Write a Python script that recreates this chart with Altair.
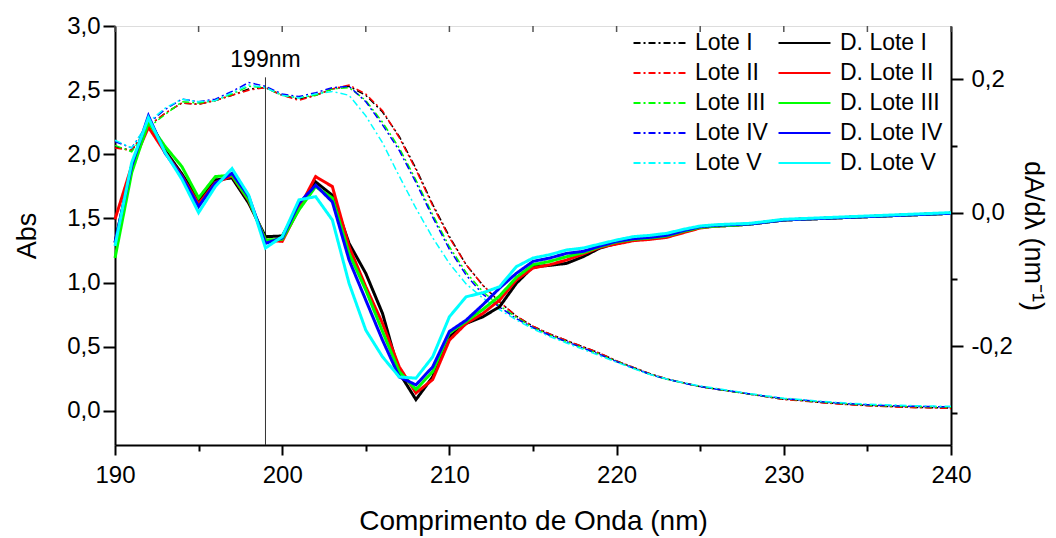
import altair as alt
import pandas as pd

FONT = "Liberation Sans"

wavelength = list(range(190, 241))

abs_names = ["Lote I", "Lote II", "Lote III", "Lote IV", "Lote V"]
der_names = ["D. Lote I", "D. Lote II", "D. Lote III", "D. Lote IV", "D. Lote V"]
series_colors = ["#000000", "#ff0000", "#00ff00", "#0000ff", "#00ffff"]

# Absorbance (left axis), 190..240 nm
abs_I = [2.06, 2.03, 2.22, 2.32, 2.40, 2.39, 2.42, 2.46, 2.51, 2.52,
         2.46, 2.43, 2.46, 2.51, 2.53, 2.46, 2.33, 2.14, 1.89, 1.61,
         1.36, 1.14, 0.98, 0.85, 0.74, 0.66, 0.60, 0.55, 0.50, 0.45,
         0.39, 0.34, 0.29, 0.25, 0.22, 0.19, 0.17, 0.15, 0.13, 0.11,
         0.092, 0.082, 0.069, 0.059, 0.050, 0.043, 0.037, 0.032, 0.028, 0.025,
         0.022]
abs_II = [2.05, 2.03, 2.22, 2.32, 2.40, 2.39, 2.42, 2.46, 2.50, 2.52,
          2.46, 2.42, 2.46, 2.51, 2.54, 2.47, 2.34, 2.13, 1.88, 1.60,
          1.35, 1.14, 0.98, 0.85, 0.74, 0.66, 0.60, 0.55, 0.50, 0.45,
          0.39, 0.34, 0.29, 0.25, 0.22, 0.19, 0.17, 0.15, 0.13, 0.11,
          0.090, 0.080, 0.067, 0.057, 0.048, 0.041, 0.035, 0.030, 0.026, 0.023,
          0.020]
abs_III = [2.07, 2.02, 2.21, 2.31, 2.41, 2.40, 2.42, 2.47, 2.53, 2.52,
           2.46, 2.44, 2.46, 2.51, 2.52, 2.42, 2.25, 2.05, 1.80, 1.53,
           1.28, 1.08, 0.93, 0.82, 0.73, 0.65, 0.59, 0.54, 0.49, 0.44,
           0.385, 0.335, 0.285, 0.248, 0.218, 0.19, 0.17, 0.15, 0.13, 0.112,
           0.095, 0.085, 0.073, 0.063, 0.054, 0.047, 0.041, 0.037, 0.034, 0.032,
           0.030]
abs_IV = [2.10, 2.05, 2.24, 2.35, 2.43, 2.41, 2.43, 2.49, 2.56, 2.53,
          2.47, 2.45, 2.48, 2.52, 2.53, 2.41, 2.23, 2.03, 1.78, 1.51,
          1.26, 1.06, 0.91, 0.81, 0.72, 0.65, 0.59, 0.54, 0.49, 0.44,
          0.385, 0.335, 0.285, 0.248, 0.218, 0.19, 0.17, 0.152, 0.132, 0.114,
          0.097, 0.087, 0.075, 0.065, 0.056, 0.049, 0.043, 0.039, 0.036, 0.034,
          0.032]
abs_V = [2.11, 2.05, 2.25, 2.36, 2.43, 2.41, 2.42, 2.48, 2.54, 2.52,
         2.46, 2.44, 2.47, 2.49, 2.46, 2.30, 2.09, 1.83, 1.58, 1.35,
         1.15, 0.99, 0.88, 0.79, 0.71, 0.64, 0.58, 0.53, 0.48, 0.43,
         0.38, 0.33, 0.285, 0.25, 0.22, 0.195, 0.175, 0.155, 0.135, 0.117,
         0.100, 0.090, 0.078, 0.068, 0.060, 0.054, 0.049, 0.045, 0.041, 0.038,
         0.036]

# First derivative dA/dlambda (right axis), 190..240 nm
der_I = [-0.045, 0.070, 0.140, 0.093, 0.058, 0.019, 0.049, 0.052, 0.014, -0.036,
         -0.035, 0.009, 0.046, 0.026, -0.046, -0.091, -0.151, -0.240, -0.280, -0.246,
         -0.186, -0.166, -0.156, -0.141, -0.106, -0.081, -0.079, -0.076, -0.066, -0.053,
         -0.046, -0.041, -0.039, -0.036, -0.029, -0.022, -0.020, -0.019, -0.017, -0.014,
         -0.011, -0.010, -0.009, -0.008, -0.007, -0.006, -0.005, -0.004, -0.003, -0.002,
         -0.001]
der_II = [-0.010, 0.070, 0.128, 0.090, 0.055, 0.013, 0.045, 0.055, 0.018, -0.041,
          -0.043, 0.006, 0.054, 0.039, -0.051, -0.111, -0.166, -0.231, -0.270, -0.250,
          -0.191, -0.166, -0.151, -0.131, -0.101, -0.083, -0.078, -0.071, -0.062, -0.052,
          -0.047, -0.042, -0.040, -0.037, -0.030, -0.023, -0.020, -0.019, -0.017, -0.014,
          -0.011, -0.010, -0.009, -0.008, -0.007, -0.006, -0.005, -0.004, -0.003, -0.002,
          -0.001]
der_III = [-0.068, 0.060, 0.135, 0.099, 0.069, 0.022, 0.054, 0.056, 0.019, -0.041,
           -0.040, 0.004, 0.039, 0.022, -0.061, -0.116, -0.178, -0.238, -0.265, -0.238,
           -0.180, -0.163, -0.145, -0.125, -0.097, -0.078, -0.073, -0.066, -0.060, -0.051,
           -0.044, -0.040, -0.038, -0.035, -0.028, -0.022, -0.020, -0.019, -0.017, -0.014,
           -0.011, -0.010, -0.009, -0.008, -0.007, -0.006, -0.005, -0.004, -0.003, -0.002,
           -0.001]
der_IV = [-0.045, 0.070, 0.145, 0.089, 0.054, 0.009, 0.044, 0.059, 0.024, -0.046,
          -0.038, 0.014, 0.041, 0.016, -0.071, -0.131, -0.191, -0.246, -0.258, -0.231,
          -0.178, -0.161, -0.138, -0.113, -0.091, -0.073, -0.068, -0.061, -0.058, -0.050,
          -0.043, -0.039, -0.037, -0.034, -0.027, -0.021, -0.019, -0.018, -0.017, -0.014,
          -0.011, -0.010, -0.009, -0.008, -0.007, -0.006, -0.005, -0.004, -0.003, -0.002,
          -0.001]
der_V = [-0.050, 0.075, 0.142, 0.090, 0.050, 0.000, 0.039, 0.066, 0.026, -0.053,
         -0.036, 0.019, 0.024, -0.011, -0.106, -0.176, -0.216, -0.246, -0.248, -0.216,
         -0.156, -0.126, -0.120, -0.111, -0.081, -0.068, -0.063, -0.056, -0.053, -0.047,
         -0.041, -0.036, -0.034, -0.031, -0.025, -0.020, -0.018, -0.017, -0.016, -0.013,
         -0.010, -0.009, -0.008, -0.007, -0.006, -0.005, -0.004, -0.003, -0.002, -0.001,
         0.000]

abs_values = [abs_I, abs_II, abs_III, abs_IV, abs_V]
der_values = [der_I, der_II, der_III, der_IV, der_V]

# annotation
annot_x = [199]
annot_top = [2.60]
annot_text = ["199nm"]

x_ticks = list(range(190, 241, 5))
left_ticks = [i * 0.25 for i in range(0, 13)]
right_ticks = [-0.3, -0.2, -0.1, 0.0, 0.1, 0.2]

LEFT_DOMAIN = [-0.265, 3.0]
RIGHT_DOMAIN = [-0.348, 0.2795]

rows_abs = []
for name, vals in zip(abs_names, abs_values):
    for w, v in zip(wavelength, vals):
        rows_abs.append({"wl": w, "value": v, "series": name})
rows_der = []
for name, vals in zip(der_names, der_values):
    for w, v in zip(wavelength, vals):
        rows_der.append({"wl": w, "value": v, "series": name})
df_abs = pd.DataFrame(rows_abs)
df_der = pd.DataFrame(rows_der)

# legend fills column by column: first column Lote I..V, second D. Lote I..V
legend_order = abs_names + der_names
legend_colors = series_colors + series_colors
legend_dashes = [[7, 3, 2, 3]] * 5 + [[1, 0]] * 5

color_scale = alt.Scale(domain=legend_order, range=legend_colors)
dash_scale = alt.Scale(domain=legend_order, range=legend_dashes)

legend = alt.Legend(
    title=None, orient="none", legendX=517, legendY=6, columns=2,
    symbolType="stroke", symbolSize=2700, clipHeight=22, rowPadding=7,
    columnPadding=9, labelOffset=8, labelFontSize=23, labelFont=FONT,
    labelColor="black", padding=0, symbolStrokeWidth=2.2,
)

X_SCALE = alt.Scale(domain=[190, 240], nice=False, zero=False)

x_axis = alt.Axis(
    values=x_ticks, orient="bottom",
    labelExpr="datum.value % 10 === 0 ? datum.label : ''",
    tickSize={"condition": {"test": "datum.value % 10 === 0", "value": 10}, "value": 6},
    title="Comprimento de Onda (nm)", titleFontSize=28, titleFont=FONT,
    titleFontWeight="normal", titleColor="black", titlePadding=20,
    labelFontSize=24, labelFont=FONT,
    labelColor="black", labelPadding=8, tickColor="black", tickWidth=2,
    domainColor="black", domainWidth=2, grid=False, labelFlush=False,
)

left_axis = alt.Axis(
    values=left_ticks, orient="left",
    labelExpr="abs(datum.value*2 - round(datum.value*2)) < 0.000001 ? replace(format(datum.value, '.1f'), '.', ',') : ''",
    tickSize={"condition": {"test": "abs(datum.value*2 - round(datum.value*2)) < 0.000001", "value": 12}, "value": 6},
    title="Abs", titleFontSize=27, titleFont=FONT, titleFontWeight="normal",
    titleColor="black", titlePadding=25,
    labelFontSize=24, labelFont=FONT, labelColor="black", labelPadding=3,
    tickColor="black", tickWidth=2, domainColor="black", domainWidth=2,
    grid=False, labelFlush=False,
)

right_axis = alt.Axis(
    values=right_ticks, orient="right",
    labelExpr="abs(datum.value*5 - round(datum.value*5)) < 0.000001 ? replace(replace(format(datum.value, '.1f'), '.', ','), '\u2212', '-') : ''",
    tickSize={"condition": {"test": "abs(datum.value*5 - round(datum.value*5)) < 0.000001", "value": 12}, "value": 6},
    title="dA/d\u03bb (nm\u207b\u00b9)", titleFontSize=27, titleFont=FONT,
    titleFontWeight="normal", titleColor="black", titlePadding=6,
    labelFontSize=24, labelFont=FONT, labelColor="black", labelPadding=8,
    tickColor="black", tickWidth=2, domainColor="black", domainWidth=2,
    grid=False, labelFlush=False,
)

abs_layer = alt.Chart(df_abs).mark_line(strokeWidth=1.5).encode(
    x=alt.X("wl:Q", scale=X_SCALE, axis=x_axis),
    y=alt.Y("value:Q", scale=alt.Scale(domain=LEFT_DOMAIN, nice=False, zero=False), axis=left_axis),
    color=alt.Color("series:N", scale=color_scale, legend=legend),
    strokeDash=alt.StrokeDash("series:N", scale=dash_scale, legend=legend),
)

der_layer = alt.Chart(df_der).mark_line(strokeWidth=3).encode(
    x=alt.X("wl:Q", scale=X_SCALE),
    y=alt.Y("value:Q", scale=alt.Scale(domain=RIGHT_DOMAIN, nice=False, zero=False), axis=right_axis),
    color=alt.Color("series:N", scale=color_scale, legend=legend),
    strokeDash=alt.StrokeDash("series:N", scale=dash_scale, legend=legend),
)

df_annot = pd.DataFrame({"x": annot_x, "top": annot_top, "bottom": [LEFT_DOMAIN[0]], "text": annot_text})

rule_layer = alt.Chart(df_annot).mark_rule(color="#333333", strokeWidth=1).encode(
    x=alt.X("x:Q", scale=X_SCALE),
    y=alt.Y("top:Q", scale=alt.Scale(domain=LEFT_DOMAIN, nice=False, zero=False)),
    y2="bottom:Q",
)

text_layer = alt.Chart(df_annot).mark_text(
    font=FONT, fontSize=23, color="black", baseline="alphabetic", align="center", dy=-10
).encode(
    x=alt.X("x:Q", scale=X_SCALE),
    y=alt.Y("top:Q", scale=alt.Scale(domain=LEFT_DOMAIN, nice=False, zero=False)),
    text="text:N",
)

# small inward tick marks along the top frame
df_top = pd.DataFrame({"x": x_ticks})
top_ticks = alt.Chart(df_top).mark_rule(color="#555555", strokeWidth=1.5).encode(
    x=alt.X("x:Q", scale=X_SCALE),
    y=alt.value(0),
    y2=alt.value(6),
)

left_group = alt.layer(abs_layer, rule_layer, text_layer, top_ticks)

chart = alt.layer(left_group, der_layer).resolve_scale(
    y="independent"
).properties(
    width=836, height=419,
    padding={"left": 115, "top": 26, "right": 105, "bottom": 93},
    autosize=alt.AutoSizeParams(type="none"),
    background="white",
).configure_view(
    stroke="#666666", strokeWidth=1.5
).configure(
    font=FONT
)

chart.save("out.html", embed_options={"renderer": "svg", "actions": False})
